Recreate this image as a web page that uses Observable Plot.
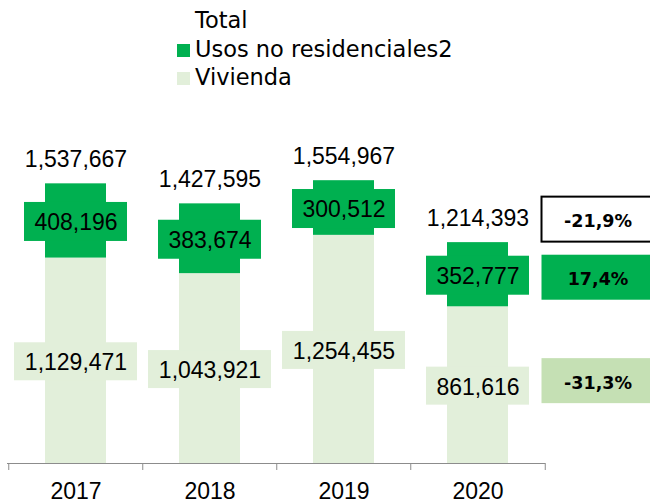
<!DOCTYPE html>
<html>
<head>
<meta charset="utf-8">
<script src="https://cdn.jsdelivr.net/npm/d3@7"></script>
<script src="https://cdn.jsdelivr.net/npm/@observablehq/plot@0.6"></script>
<style>
html, body { margin: 0; padding: 0; background: #fff; overflow: hidden; }
#legend { height: 100px; box-sizing: border-box; padding: 6px 0 0 177px; font-family: "DejaVu Sans"; font-size: 22.5px; line-height: 28.5px; color: #000; }
#legend .sw { display: inline-block; width: 13px; height: 13px; margin-right: 5px; vertical-align: baseline; }
#legend .nosw { display: inline-block; width: 18px; }
</style>
</head>
<body>
<div id="legend"></div>
<div id="chart"></div>
<script>
// ---- data ----
const years = ["2017", "2018", "2019", "2020"];
const vivienda = [1129471, 1043921, 1254455, 861616];
const usosNoResidenciales = [408196, 383674, 300512, 352777];
const totals = [1537667, 1427595, 1554967, 1214393];
const seriesNames = ["Total", "Usos no residenciales2", "Vivienda"];

// ---- styling ----
const GREEN = "#00B050";
const LIGHT = "#E2EFDA";
const LIGHT_BOX = "#C5E0B4";
const AXIS = "#8c8c8c";
const seriesColors = [null, GREEN, LIGHT];

// legend (HTML, above the SVG)
const legend = document.getElementById("legend");
seriesNames.forEach((name, i) => {
  const row = document.createElement("div");
  const sw = document.createElement("span");
  if (seriesColors[i]) { sw.className = "sw"; sw.style.background = seriesColors[i]; }
  else sw.className = "nosw";
  row.appendChild(sw);
  row.appendChild(document.createTextNode(name));
  legend.appendChild(row);
});

const fmt = d3.format(",");
const rows = years.map((year, i) => ({
  year,
  viv: vivienda[i],
  nr: usosNoResidenciales[i],
  total: totals[i],
  vivMid: vivienda[i] / 2,
  nrMid: vivienda[i] + usosNoResidenciales[i] / 2
}));

const n = years.length;
const pct = (a, b) => ((a / b - 1) * 100).toFixed(1).replace(".", ",") + "%";
const last = rows[n - 1], prev = rows[n - 2];
const variations = [
  {year: last.year, y: last.total, label: pct(last.total, prev.total), fill: "#fff", stroke: "#000", dy: -23},
  {year: last.year, y: last.nrMid, label: pct(last.nr, prev.nr), fill: GREEN, stroke: null, dy: 3},
  {year: last.year, y: last.vivMid, label: pct(last.viv, prev.viv), fill: LIGHT_BOX, stroke: null, dy: -4}
];

// label background boxes: widened around the bar depending on label length
const padFor = (s) => (s.length > 7 ? -31 : -21);
const boxMarks = [];
rows.forEach((r) => {
  const lNr = fmt(r.nr), lViv = fmt(r.viv);
  boxMarks.push(Plot.barY([r], {x: "year", y1: "nrMid", y2: "nrMid", fill: GREEN,
    insetLeft: padFor(lNr), insetRight: padFor(lNr), insetTop: -19.5, insetBottom: -19.5, dy: 1}));
  boxMarks.push(Plot.barY([r], {x: "year", y1: "vivMid", y2: "vivMid", fill: LIGHT,
    insetLeft: padFor(lViv), insetRight: padFor(lViv), insetTop: -19, insetBottom: -19, dy: 1}));
});

const varMarks = [];
variations.forEach((v) => {
  varMarks.push(Plot.barY([v], {x: "year", y1: "y", y2: "y", fill: v.fill, stroke: v.stroke, strokeWidth: 2,
    insetLeft: -25.5, insetRight: -25.5, insetTop: -22.5, insetBottom: -22.5, dx: 120, dy: v.dy}));
  varMarks.push(Plot.text([v], {x: "year", y: "y", text: "label", dx: 120, dy: v.dy + 2,
    fontFamily: "DejaVu Sans", fontWeight: "bold", fontSize: 17.5, fill: "#000"}));
});

const half = 67.25;
const chart = Plot.plot({
  width: 650,
  height: 404,
  marginLeft: 7,
  marginRight: 105,
  marginTop: 72,
  marginBottom: 41,
  style: {fontFamily: "Liberation Sans", fontSize: "23px", color: "#000", background: "#fff", overflow: "hidden"},
  x: {domain: years, paddingInner: 0.545, paddingOuter: 0.2725, tickSize: 0, tickPadding: 19, label: null},
  y: {domain: [0, 1600000], axis: null},
  marks: [
    Plot.barY(rows, {x: "year", y1: 0, y2: "viv", fill: LIGHT}),
    Plot.barY(rows, {x: "year", y1: "viv", y2: "total", fill: GREEN}),
    ...boxMarks,
    Plot.ruleY([0], {stroke: AXIS, strokeWidth: 1}),
    Plot.ruleX(years, {x: (d) => d, dx: -half, y1: 0, y2: 0, insetBottom: -7, stroke: AXIS}),
    Plot.ruleX(years.slice(-1), {x: (d) => d, dx: half, y1: 0, y2: 0, insetBottom: -7, stroke: AXIS}),
    Plot.text(rows, {x: "year", y: "total", text: (d) => fmt(d.total), dy: -24, fontSize: 23, fill: "#000"}),
    Plot.text(rows, {x: "year", y: "nrMid", text: (d) => fmt(d.nr), dy: 2, fontSize: 23, fill: "#000"}),
    Plot.text(rows, {x: "year", y: "vivMid", text: (d) => fmt(d.viv), dy: 2, fontSize: 23, fill: "#000"}),
    ...varMarks
  ]
});
document.getElementById("chart").appendChild(chart);
</script>
</body>
</html>
